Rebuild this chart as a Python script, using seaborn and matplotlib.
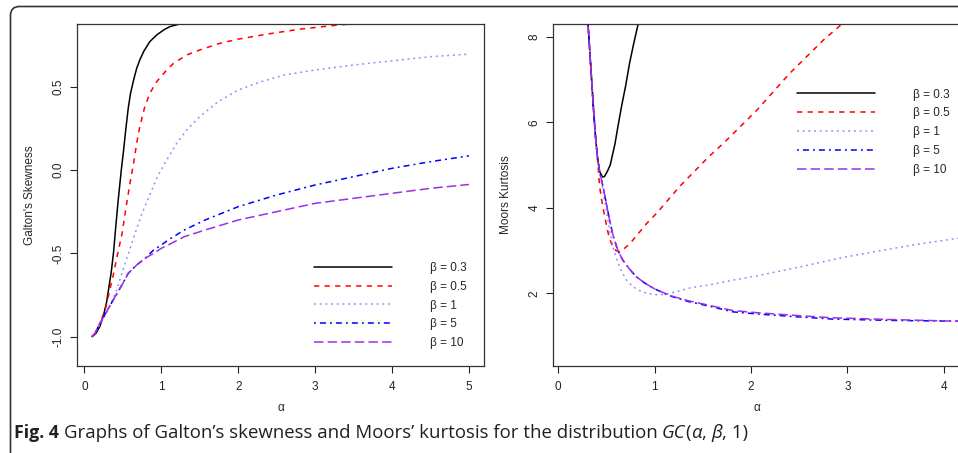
import numpy as np
import pandas as pd
import matplotlib.pyplot as plt
import seaborn as sns
from matplotlib.patches import FancyBboxPatch
from matplotlib.transforms import IdentityTransform

# ---- data ----
labels = ["β = 0.3", "β = 0.5", "β = 1", "β = 5", "β = 10"]
colors = ["#000000", "#FF0000", "#8F8FFF", "#0000FF", "#9B30E8"]
dash_patterns = ["", (3.8, 3.8), (1.4, 2.7), (1.4, 2.9, 4.3, 2.9), (6.8, 3.0)]

# Galton's skewness
sk_x_03 = [0.1, 0.15, 0.2, 0.25, 0.29, 0.32, 0.35, 0.38, 0.41, 0.44, 0.48, 0.51, 0.54, 0.57,
           0.60, 0.64, 0.68, 0.72, 0.77, 0.85, 0.94, 1.03, 1.11, 1.27, 1.5, 2.0, 3.0, 5.0]
sk_y_03 = [-1.0, -0.98, -0.94, -0.87, -0.79, -0.70, -0.61, -0.49, -0.33, -0.18, 0.0, 0.12, 0.25, 0.37,
           0.46, 0.54, 0.61, 0.66, 0.71, 0.77, 0.81, 0.84, 0.86, 0.88, 0.90, 0.92, 0.94, 0.95]
sk_x_05 = [0.1, 0.15, 0.2, 0.27, 0.33, 0.38, 0.42, 0.49, 0.55, 0.60, 0.64, 0.68, 0.72, 0.78, 0.85,
           0.94, 1.07, 1.16, 1.33, 1.50, 1.76, 2.0, 2.37, 2.8, 3.2, 3.45, 4.0, 5.0]
sk_y_05 = [-1.0, -0.98, -0.92, -0.84, -0.72, -0.62, -0.53, -0.38, -0.20, -0.06, 0.04, 0.16, 0.26, 0.37, 0.46,
           0.53, 0.60, 0.64, 0.69, 0.72, 0.76, 0.785, 0.815, 0.845, 0.865, 0.876, 0.89, 0.91]
sk_x_1 = [0.1, 0.2, 0.31, 0.42, 0.53, 0.66, 0.75, 0.85, 0.95, 1.07, 1.2, 1.33, 1.5, 1.74, 2.0,
          2.3, 2.6, 3.0, 3.5, 4.1, 4.5, 5.0]
sk_y_1 = [-1.0, -0.93, -0.84, -0.72, -0.56, -0.38, -0.26, -0.15, -0.04, 0.06, 0.16, 0.24, 0.32, 0.41, 0.48,
          0.53, 0.57, 0.60, 0.63, 0.66, 0.68, 0.695]
sk_x_5 = [0.1, 0.15, 0.2, 0.3, 0.4, 0.5, 0.57, 0.68, 0.79, 0.9, 1.0, 1.09, 1.3, 1.57, 2.0,
          2.5, 3.0, 3.5, 4.0, 4.5, 5.0]
sk_y_5 = [-1.0, -0.97, -0.92, -0.84, -0.76, -0.68, -0.62, -0.57, -0.53, -0.48, -0.45, -0.42, -0.36, -0.30, -0.22,
          -0.15, -0.09, -0.04, 0.01, 0.05, 0.085]
sk_x_10 = [0.1, 0.15, 0.2, 0.3, 0.4, 0.5, 0.57, 0.68, 0.79, 0.9, 1.0, 1.09, 1.3, 1.57, 2.0,
           2.5, 3.0, 3.5, 4.0, 4.5, 5.0]
sk_y_10 = [-1.0, -0.97, -0.92, -0.84, -0.76, -0.68, -0.62, -0.57, -0.53, -0.50, -0.47, -0.45, -0.40, -0.36, -0.30,
           -0.25, -0.20, -0.17, -0.14, -0.11, -0.087]

# Moors' kurtosis
ku_x_03 = [0.29, 0.31, 0.33, 0.35, 0.37, 0.39, 0.41, 0.43, 0.46, 0.48, 0.51, 0.54, 0.57, 0.59,
           0.62, 0.66, 0.70, 0.74, 0.78, 0.83, 0.86]
ku_y_03 = [8.9, 8.3, 7.6, 6.9, 6.2, 5.6, 5.15, 4.85, 4.72, 4.73, 4.85, 5.0, 5.3, 5.5,
           5.9, 6.4, 6.85, 7.37, 7.8, 8.3, 8.7]
ku_x_05 = [0.29, 0.31, 0.33, 0.35, 0.37, 0.39, 0.41, 0.43, 0.45, 0.47, 0.50, 0.52, 0.55, 0.57, 0.60,
           0.64, 0.68, 0.74, 0.92, 1.02, 1.26, 1.56, 1.71, 2.06, 2.40, 2.75, 2.94, 3.1]
ku_y_05 = [8.9, 8.3, 7.6, 6.9, 6.2, 5.6, 5.1, 4.5, 4.2, 3.95, 3.6, 3.40, 3.18, 3.08, 3.0,
           2.98, 3.04, 3.15, 3.64, 3.87, 4.50, 5.19, 5.50, 6.28, 7.14, 7.92, 8.29, 8.7]
ku_x_1 = [0.29, 0.31, 0.33, 0.35, 0.37, 0.39, 0.41, 0.43, 0.45, 0.48, 0.51, 0.54, 0.57, 0.61, 0.66,
          0.71, 0.78, 0.85, 0.92, 1.02, 1.12, 1.19, 1.37, 1.57, 1.81, 2.06, 2.51, 2.75, 3.0, 3.37,
          3.7, 4.15, 4.3]
ku_y_1 = [8.9, 8.3, 7.6, 6.9, 6.2, 5.6, 5.15, 4.85, 4.6, 4.2, 3.8, 3.40, 3.07, 2.78, 2.5,
          2.31, 2.15, 2.06, 2.0, 1.97, 1.98, 2.02, 2.13, 2.2, 2.31, 2.41, 2.62, 2.74, 2.86, 3.01,
          3.14, 3.29, 3.34]
ku_x_5 = [0.29, 0.31, 0.33, 0.35, 0.37, 0.39, 0.41, 0.43, 0.45, 0.47, 0.50, 0.52, 0.55, 0.57, 0.62,
          0.67, 0.74, 0.81, 0.9, 0.99, 1.09, 1.19, 1.35, 1.57, 1.81, 2.06, 2.5, 2.85, 3.44, 4.15, 4.3]
ku_y_5 = [8.9, 8.3, 7.6, 6.9, 6.2, 5.6, 5.15, 4.85, 4.65, 4.45, 4.1, 3.87, 3.55, 3.35, 3.0,
          2.78, 2.57, 2.39, 2.24, 2.12, 2.01, 1.92, 1.81, 1.70, 1.57, 1.52, 1.45, 1.40, 1.37, 1.35, 1.35]
ku_x_10 = [0.29, 0.31, 0.33, 0.35, 0.37, 0.39, 0.41, 0.43, 0.45, 0.47, 0.50, 0.52, 0.55, 0.57, 0.62,
           0.67, 0.74, 0.81, 0.9, 0.99, 1.09, 1.19, 1.35, 1.57, 1.81, 2.06, 2.5, 2.85, 3.44, 4.15, 4.3]
ku_y_10 = [8.9, 8.3, 7.6, 6.9, 6.2, 5.6, 5.15, 4.85, 4.65, 4.45, 4.1, 3.87, 3.55, 3.35, 3.0,
           2.78, 2.57, 2.39, 2.24, 2.12, 2.02, 1.93, 1.83, 1.72, 1.60, 1.55, 1.48, 1.43, 1.39, 1.35, 1.35]

skew_series = [(sk_x_03, sk_y_03), (sk_x_05, sk_y_05), (sk_x_1, sk_y_1), (sk_x_5, sk_y_5), (sk_x_10, sk_y_10)]
kurt_series = [(ku_x_03, ku_y_03), (ku_x_05, ku_y_05), (ku_x_1, ku_y_1), (ku_x_5, ku_y_5), (ku_x_10, ku_y_10)]


def long_frame(series):
    parts = []
    for lab, (xs, ys) in zip(labels, series):
        parts.append(pd.DataFrame({"alpha": xs, "value": ys, "beta": lab}))
    return pd.concat(parts, ignore_index=True)


sns.set_style("white")
plt.rcParams['font.family'] = ['Liberation Sans', 'DejaVu Sans']
plt.rcParams['lines.scale_dashes'] = False

W, H = 958, 453
fig = plt.figure(figsize=(W / 100, H / 100), dpi=100)

palette = dict(zip(labels, colors))
dashes = dict(zip(labels, dash_patterns))


def draw_panel(rect, df, xlim, ylim, xticks, yticks, ylabel, ylab_x, leg_xy):
    ax = fig.add_axes(rect)
    sns.lineplot(data=df, x="alpha", y="value", hue="beta", style="beta",
                 hue_order=labels, style_order=labels, palette=palette, dashes=dashes,
                 estimator=None, sort=False, linewidth=1.1, legend=False, ax=ax)
    ax.set_xlim(*xlim)
    ax.set_ylim(*ylim)
    ax.set_xticks(xticks)
    ax.set_yticks(yticks)
    ax.set_xticklabels([str(t) for t in xticks])
    ax.set_yticklabels([f"{t}" for t in yticks], rotation=90, va="center")
    ax.set_xlabel("α", fontsize=8.5, labelpad=6.5)
    ax.set_ylabel(ylabel, fontsize=8.5)
    ax.yaxis.set_label_coords(ylab_x, H - 195, transform=IdentityTransform())
    ax.tick_params(axis="both", direction="out", length=5, width=0.8, labelsize=8.5,
                   colors="#222222", bottom=True, left=True)
    ax.tick_params(axis="x", pad=6)
    ax.tick_params(axis="y", pad=4)
    for sp in ax.spines.values():
        sp.set_visible(True)
        sp.set_color("#333333")
        sp.set_linewidth(0.9)
    ax.legend(ax.lines, labels, loc="center left",
              bbox_to_anchor=(leg_xy[0] / W, 1 - leg_xy[1] / H),
              bbox_transform=fig.transFigure, frameon=False, fontsize=8.5,
              handlelength=6.6, handletextpad=3.2, labelspacing=0.58,
              borderpad=0, borderaxespad=0)
    return ax


ax1 = draw_panel([77 / W, 1 - 366 / H, 407 / W, 342 / H], long_frame(skew_series),
                 (-0.096, 5.196), (-1.176, 0.876), [0, 1, 2, 3, 4, 5],
                 [-1.0, -0.5, 0.0, 0.5], "Galton's Skewness", 36, (314, 305.5))
ax2 = draw_panel([553.3 / W, 1 - 366 / H, 407 / W, 342 / H], long_frame(kurt_series),
                 (-0.05, 4.17), (0.304, 8.296), [0, 1, 2, 3, 4],
                 [2, 4, 6, 8], "Moors Kurtosis", 512, (797, 132.3))

# rounded frame around the figure body
frame = FancyBboxPatch((10.5, -60), 1100, H - 6.5 + 60, boxstyle="round,pad=0,rounding_size=9",
                       transform=IdentityTransform(), fill=False, edgecolor="#333333",
                       linewidth=1.2, clip_on=False)
fig.patches.append(frame)

# caption built from pieces
renderer = fig.canvas.get_renderer()
cap_y = (H - 433) / H
pieces = [("Fig. 4", "bold", "normal", " ", 12.8),
          ("Graphs of Galton’s skewness and Moors’ kurtosis for the distribution ", "normal", "normal", "", 13.4),
          ("GC", "normal", "italic", "", 13.4), ("(", "normal", "normal", "", 13.4), ("α", "normal", "italic", "", 13.4),
          (", ", "normal", "normal", "", 13.4), ("β", "normal", "italic", "", 13.4), (", 1)", "normal", "normal", "", 13.4)]
xpos = 14
for txt, weight, style, trail, size in pieces:
    t = fig.text(xpos / W, cap_y, txt + trail, fontsize=size, fontweight=weight, fontstyle=style,
                 va="center", ha="left", color="#231f20", family=["Open Sans", "DejaVu Sans"])
    bb = t.get_window_extent(renderer=renderer)
    xpos = bb.x1

fig.savefig("out.png", dpi=100)
